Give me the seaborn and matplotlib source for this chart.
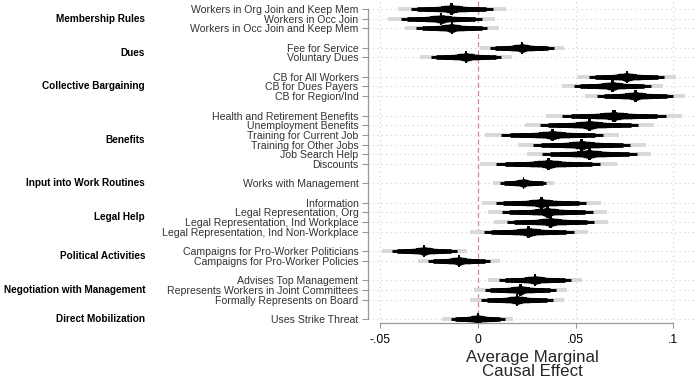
import numpy as np
import pandas as pd
import matplotlib
matplotlib.use("Agg")
import matplotlib.pyplot as plt
import matplotlib.transforms as mtransforms
import seaborn as sns

# ---------------- data ----------------
groups = ["Membership Rules", "Dues", "Collective Bargaining", "Benefits",
          "Input into Work Routines", "Legal Help", "Political Activities",
          "Negotiation with Management", "Direct Mobilization"]

items = [
    ["Workers in Org Join and Keep Mem", "Workers in Occ Join", "Workers in Occ Join and Keep Mem"],
    ["Fee for Service", "Voluntary Dues"],
    ["CB for All Workers", "CB for Dues Payers", "CB for Region/Ind"],
    ["Health and Retirement Benefits", "Unemployment Benefits", "Training for Current Job",
     "Training for Other Jobs", "Job Search Help", "Discounts"],
    ["Works with Management"],
    ["Information", "Legal Representation, Org", "Legal Representation, Ind Workplace",
     "Legal Representation, Ind Non-Workplace"],
    ["Campaigns for Pro-Worker Politicians", "Campaigns for Pro-Worker Policies"],
    ["Advises Top Management", "Represents Workers in Joint Committees", "Formally Represents on Board"],
    ["Uses Strike Threat"],
]

estimates = [
    [-0.0133, -0.0187, -0.0133],
    [0.0225, -0.0060],
    [0.0762, 0.0688, 0.0806],
    [0.0697, 0.0571, 0.0382, 0.0532, 0.0571, 0.0361],
    [0.0233],
    [0.0324, 0.0356, 0.0373, 0.0261],
    [-0.0273, -0.0095],
    [0.0293, 0.0218, 0.0201],
    [0.0000],
]

std_errors = [
    [0.0107, 0.0106, 0.0093],
    [0.0083, 0.0092],
    [0.0098, 0.0100, 0.0099],
    [0.0135, 0.0128, 0.0133, 0.0127, 0.0123, 0.0136],
    [0.0060],
    [0.0118, 0.0118, 0.0113, 0.0117],
    [0.0084, 0.0081],
    [0.0094, 0.0093, 0.0093],
    [0.0070],
]

x_ticks = [-0.05, 0.0, 0.05, 0.1]
x_ticklabels = ["-.05", "0", ".05", ".1"]

# ---------------- assemble table ----------------
rows = []
pos = 0
group_centers = []
for g, its, ests, ses in zip(groups, items, estimates, std_errors):
    start = pos
    for it, e, s in zip(its, ests, ses):
        rows.append(dict(group=g, item=it, est=e, se=s, pos=pos))
        pos += 1
    group_centers.append((g, (start + pos - 1) / 2.0))
    pos += 1  # gap between groups
df = pd.DataFrame(rows)

# confidence levels: (z, colour, linewidth in pt)
ci_levels = [
    (2.576, "#d8d8d8", 2.8),
    (1.960, "black", 2.1),
    (1.645, "black", 3.4),
    (1.282, "black", 3.5),
    (1.036, "black", 3.6),
    (0.842, "black", 3.75),
    (0.674, "black", 3.95),
    (0.524, "black", 4.25),
    (0.385, "black", 4.65),
    (0.253, "black", 5.2),
    (0.126, "black", 6.2),
    (0.063, "black", 8.6),
]

# ---------------- figure ----------------
sns.set_style("white")
plt.rcParams["font.family"] = ["Liberation Sans", "DejaVu Sans"]

fig = plt.figure(figsize=(6.96, 3.86), dpi=100)
ax = fig.add_axes([368 / 696, 1 - 323.3 / 386, 1 - 368 / 696, 323.3 / 386])

# grid lines
for yv in df["pos"]:
    ax.axhline(yv, color="#cfcfcf", lw=0.8, ls=(0, (1, 3)), zorder=0)
for xv in x_ticks:
    if xv != 0:
        ax.axvline(xv, color="#cfcfcf", lw=0.8, ls=(0, (1, 3)), zorder=0)
ax.axvline(0, color="#d57fb2", lw=0.9, ls=(0, (4, 2.5)), zorder=1)

# CI bars
for z, col, lw in ci_levels:
    ax.hlines(df["pos"], df["est"] - z * df["se"], df["est"] + z * df["se"],
              colors=col, linewidth=lw, capstyle="butt", zorder=2)

sns.scatterplot(data=df, x="est", y="pos", marker="D", s=9, color="black",
                edgecolor="none", ax=ax, zorder=3, legend=False)

ax.set_xlim(-0.0561, 0.1116)
ax.set_ylim(32.45, -0.93)

ax.set_yticks(df["pos"])
ax.set_yticklabels(df["item"], fontsize=7.6, color="#333333")
ax.set_xticks(x_ticks)
ax.set_xticklabels(x_ticklabels, fontsize=8.8, color="black")
ax.tick_params(axis="y", length=4.3, width=0.8, color="#999999", pad=2.6, left=True)
ax.tick_params(axis="x", length=3.6, width=0.8, color="#999999", pad=4.3, bottom=True)

for side in ["top", "right"]:
    ax.spines[side].set_visible(False)
for side in ["left", "bottom"]:
    ax.spines[side].set_color("#999999")
    ax.spines[side].set_linewidth(0.9)
ax.spines["left"].set_bounds(df["pos"].min(), df["pos"].max())
ax.spines["bottom"].set_bounds(x_ticks[0], x_ticks[-1])

ax.set_xlabel("Average Marginal\nCausal Effect", fontsize=12.2, labelpad=2.5,
              linespacing=0.92)
ax.set_ylabel("")

# group labels
trans = mtransforms.blended_transform_factory(fig.transFigure, ax.transData)
for g, c in group_centers:
    ax.text(145 / 696, c, g, transform=trans, ha="right", va="center",
            fontsize=7.2, fontweight="bold", color="black")

fig.savefig("out.png", dpi=100)
